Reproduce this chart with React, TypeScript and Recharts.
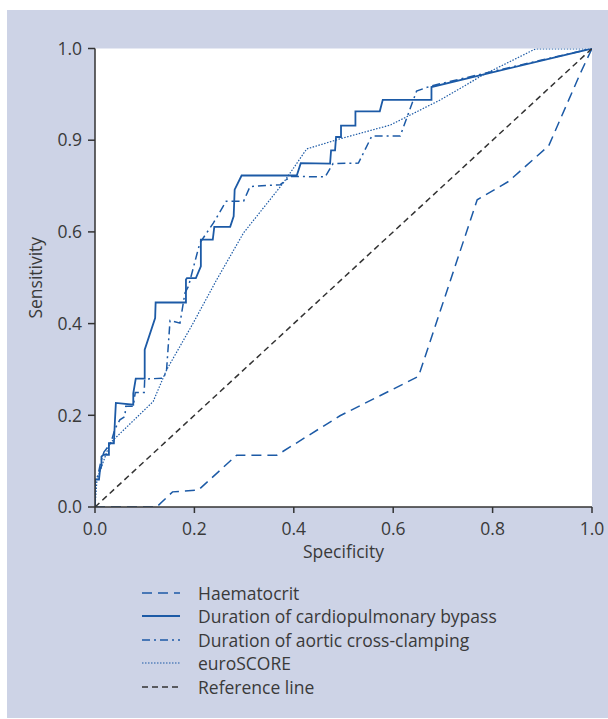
import React from "react";
import { LineChart, Line, XAxis, YAxis, ReferenceArea } from "recharts";

// values: specificity (x) and sensitivity (y) per series
const haemSpec = [0, 0.124, 0.156, 0.208, 0.285, 0.366, 0.493, 0.651, 0.769, 0.832, 0.913, 0.977, 1];
const haemSens = [0, 0, 0.033, 0.037, 0.113, 0.113, 0.199, 0.285, 0.67, 0.71, 0.788, 0.947, 1];

const cpbSpec = [
  0, 0, 0.008, 0.01, 0.013, 0.013, 0.017, 0.028, 0.028, 0.038, 0.04, 0.042, 0.077, 0.077, 0.082, 0.1, 0.1,
  0.121, 0.122, 0.183, 0.183, 0.185, 0.203, 0.213, 0.213, 0.237, 0.24, 0.272, 0.279, 0.281, 0.295, 0.406,
  0.414, 0.473, 0.475, 0.483, 0.485, 0.495, 0.495, 0.524, 0.524, 0.573, 0.579, 0.677, 0.677, 1,
];
const cpbSens = [
  0, 0.06, 0.06, 0.08, 0.09, 0.11, 0.114, 0.114, 0.139, 0.139, 0.186, 0.227, 0.223, 0.248, 0.28, 0.28, 0.343,
  0.412, 0.446, 0.446, 0.496, 0.499, 0.499, 0.525, 0.583, 0.583, 0.611, 0.611, 0.634, 0.692, 0.723, 0.723,
  0.75, 0.749, 0.778, 0.778, 0.807, 0.807, 0.832, 0.832, 0.863, 0.863, 0.888, 0.888, 0.916, 1,
];

const xclSpec = [
  0, 0, 0.006, 0.012, 0.018, 0.025, 0.032, 0.04, 0.05, 0.06, 0.062, 0.077, 0.081, 0.099, 0.1, 0.138, 0.144,
  0.151, 0.171, 0.181, 0.188, 0.211, 0.238, 0.264, 0.299, 0.312, 0.373, 0.393, 0.463, 0.479, 0.53, 0.557,
  0.614, 0.647, 0.675, 0.8, 1,
];
const xclSens = [
  0, 0.05, 0.07, 0.1, 0.12, 0.13, 0.14, 0.17, 0.19, 0.197, 0.22, 0.22, 0.25, 0.25, 0.279, 0.281, 0.299,
  0.407, 0.401, 0.467, 0.481, 0.576, 0.619, 0.667, 0.667, 0.699, 0.703, 0.721, 0.72, 0.749, 0.75, 0.809,
  0.809, 0.907, 0.918, 0.95, 1,
];

const euroSpec = [0, 0.004, 0.03, 0.117, 0.144, 0.197, 0.245, 0.299, 0.379, 0.426, 0.493, 0.594, 0.695, 0.782, 0.886, 0.994, 1];
const euroSens = [0, 0.06, 0.139, 0.23, 0.299, 0.4, 0.496, 0.598, 0.707, 0.781, 0.803, 0.833, 0.888, 0.943, 0.999, 0.999, 1];

const refSpec = [0, 1];
const refSens = [0, 1];

const xTicks = [0, 0.2, 0.4, 0.6, 0.8, 1];
const xTickLabels = ["0.0", "0.2", "0.4", "0.6", "0.8", "1.0"];
const yTicks = [0, 0.2, 0.4, 0.6, 0.8, 1];
const yTickLabels = ["0.0", "0.2", "0.4", "0.6", "0.9", "1.0"];

const BLUE = "#1c5aa6";
const DARK = "#333333";
const TEXT = "#3a3a3a";
const FONT = "'Open Sans', 'Noto Sans', sans-serif";
const FS = 17.5;

const zip = (xs: number[], ys: number[]) => xs.map((x, i) => ({ x, y: ys[i] }));

const series = [
  { name: "Haematocrit", data: zip(haemSpec, haemSens), color: BLUE, dash: "10 6", width: 1.5 },
  { name: "Duration of cardiopulmonary bypass", data: zip(cpbSpec, cpbSens), color: BLUE, dash: undefined, width: 1.8 },
  { name: "Duration of aortic cross-clamping", data: zip(xclSpec, xclSens), color: BLUE, dash: "8 4 2 4", width: 1.5 },
  { name: "euroSCORE", data: zip(euroSpec, euroSens), color: BLUE, dash: "1.5 1.5", width: 1.2 },
  { name: "Reference line", data: zip(refSpec, refSens), color: DARK, dash: "6 4", width: 1.5 },
];

const tickStyle = { fill: TEXT, fontSize: FS, fontFamily: FONT };

function LegendBox() {
  return (
    <div style={{ position: "absolute", left: 135, top: 571, fontFamily: FONT, fontSize: FS, color: TEXT }}>
      {series.map((s) => (
        <div key={s.name} style={{ display: "flex", alignItems: "center", height: 23.5 }}>
          <svg width={38} height={10}>
            <line x1={0} y1={5} x2={38} y2={5} stroke={s.color} strokeWidth={s.width} strokeDasharray={s.dash} />
          </svg>
          <span style={{ marginLeft: 18 }}>{s.name}</span>
        </div>
      ))}
    </div>
  );
}

export default function App() {
  return (
    <div
      style={{
        position: "absolute", left: 7, top: 10, width: 601, height: 708,
        background: "#cdd3e6", fontFamily: FONT,
      }}
    >
      <LineChart width={601} height={708} margin={{ top: 38.5, right: 16, left: 0, bottom: 181 }}>
        <ReferenceArea x1={0} x2={1} y1={0} y2={1} fill="#ffffff" fillOpacity={1} stroke="none" ifOverflow="visible" />
        <XAxis
          type="number"
          dataKey="x"
          domain={[0, 1]}
          ticks={xTicks}
          tickFormatter={(v: number) => xTickLabels[xTicks.indexOf(v)] ?? String(v)}
          tick={tickStyle}
          tickSize={6}
          tickMargin={10}
          height={30}
          axisLine={{ stroke: DARK, strokeWidth: 1.5 }}
          tickLine={{ stroke: DARK, strokeWidth: 1.5 }}
          allowDataOverflow
          label={{ value: "Specificity", position: "bottom", offset: 9, fill: TEXT, fontSize: FS, fontFamily: FONT }}
        />
        <YAxis
          type="number"
          dataKey="y"
          domain={[0, 1]}
          ticks={yTicks}
          tickFormatter={(v: number) => yTickLabels[yTicks.indexOf(v)] ?? String(v)}
          tick={tickStyle}
          tickSize={7}
          tickMargin={6}
          width={88}
          axisLine={{ stroke: DARK, strokeWidth: 1.5 }}
          tickLine={{ stroke: DARK, strokeWidth: 1.5 }}
          allowDataOverflow
          label={{
            value: "Sensitivity", angle: -90, position: "insideLeft", offset: 29,
            fill: TEXT, fontSize: FS, fontFamily: FONT, style: { textAnchor: "middle" },
          }}
        />
        {series.map((s) => (
          <Line
            key={s.name}
            data={s.data}
            dataKey="y"
            name={s.name}
            type="linear"
            stroke={s.color}
            strokeWidth={s.width}
            strokeDasharray={s.dash}
            dot={false}
            activeDot={false}
            isAnimationActive={false}
          />
        ))}
      </LineChart>
      <LegendBox />
    </div>
  );
}
